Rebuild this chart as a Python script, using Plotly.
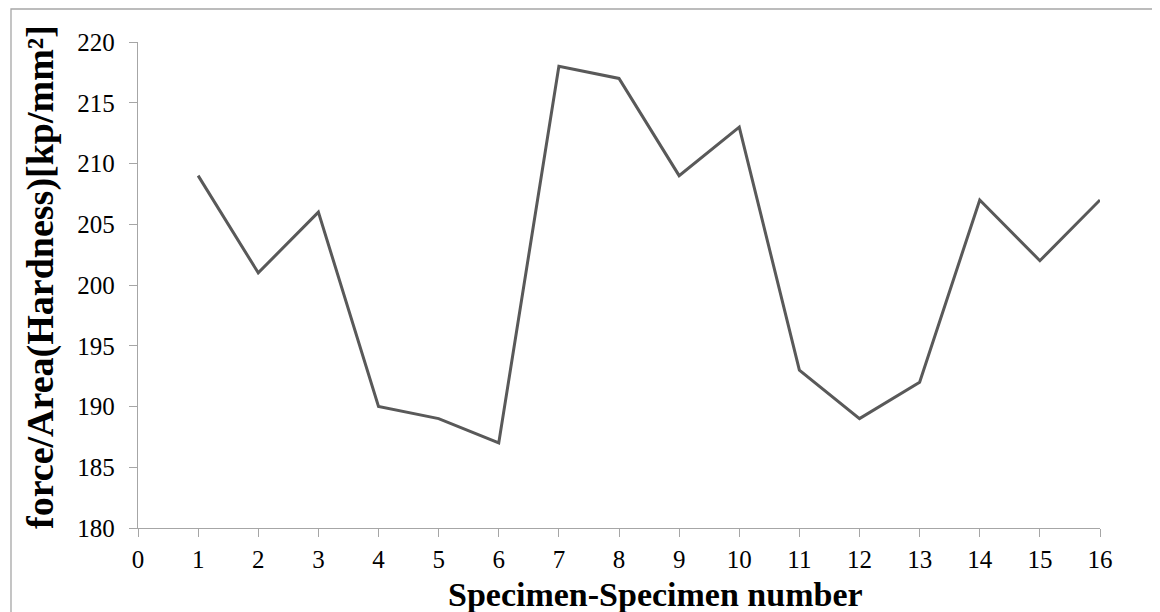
import plotly.graph_objects as go

specimen = list(range(1, 17))
hardness = [209, 201, 206, 190, 189, 187, 218, 217, 209, 213, 193, 189, 192, 207, 202, 207]
x_ticks = list(range(0, 17))
y_ticks = list(range(180, 221, 5))
x_title = "<b>Specimen-Specimen number</b>"
y_title = "<b>force/Area(Hardness)[kp/mm²]</b>"

fig = go.Figure()
fig.add_trace(go.Scatter(x=specimen, y=hardness, mode="lines",
                         line=dict(color="#595959", width=3), showlegend=False))

W, H = 1160, 612
OFF = 8  # page body margin
l, r, t, b = 130, 68, 34, 92
pw, ph = W - l - r, H - t - b

def px(x):
    return (x - OFF - l) / pw

def py(y):
    return (H - b - (y - OFF)) / ph

fig.add_shape(type="rect", xref="paper", yref="paper",
              x0=px(11), x1=px(1155), y0=py(660), y1=py(9),
              line=dict(color="#A6A6A6", width=1.3), layer="below")

serif = "Liberation Serif, Times New Roman, serif"
axis_font = dict(family=serif, size=25, color="black")
x_title_font = dict(family=serif, size=34, color="black")
y_title_font = dict(family=serif, size=38, color="black")

fig.update_xaxes(range=[0, 16], tickvals=x_ticks, ticktext=[str(v) for v in x_ticks],
                 showline=True, linecolor="#A6A6A6", linewidth=1.3,
                 ticks="outside", ticklen=8, tickcolor="#A6A6A6", tickwidth=1.3,
                 ticklabelstandoff=1,
                 showgrid=False, zeroline=False, tickfont=axis_font)
fig.update_yaxes(range=[180, 220], tickvals=y_ticks, ticktext=[str(v) for v in y_ticks],
                 showline=True, linecolor="#A6A6A6", linewidth=1.3,
                 ticks="outside", ticklen=8, tickcolor="#A6A6A6", tickwidth=1.3,
                 ticklabelstandoff=9,
                 showgrid=False, zeroline=False, tickfont=axis_font)

fig.add_annotation(text=x_title, xref="paper", yref="paper", x=px(655), y=py(594),
                   xanchor="center", yanchor="middle", showarrow=False, font=x_title_font,
                   borderpad=0)
fig.add_annotation(text=y_title, xref="paper", yref="paper", x=px(40), y=py(277),
                   xanchor="center", yanchor="middle", showarrow=False, font=y_title_font,
                   textangle=-90, borderpad=0)

fig.update_layout(width=W, height=H, margin=dict(l=l, r=r, t=t, b=b),
                  plot_bgcolor="white", paper_bgcolor="white")

fig.write_html("out.html")
